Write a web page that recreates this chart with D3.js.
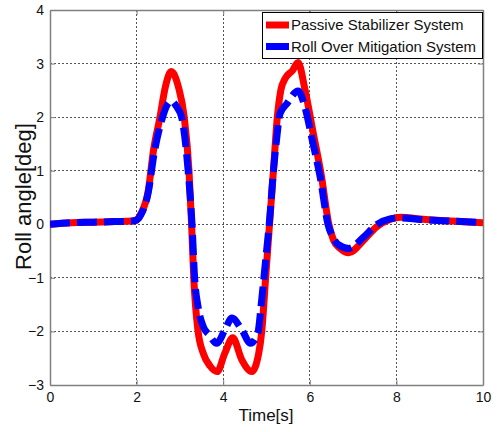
<!DOCTYPE html>
<html>
<head>
<meta charset="utf-8">
<script src="https://cdn.jsdelivr.net/npm/d3@7"></script>
<style>
  html, body { margin: 0; padding: 0; background: #fff; }
  svg { display: block; font-family: "Liberation Sans", Arial, Helvetica, sans-serif; }
</style>
</head>
<body>
<svg id="chart" width="497" height="432"></svg>
<script>
// Roll angle response over time for the two suspension setups
const passiveTime = [0, 0.5, 1.0, 1.5, 1.9, 2.0, 2.1, 2.27, 2.39, 2.54, 2.66, 2.8, 2.97, 3.1, 3.21, 3.27, 3.32, 3.42, 3.54, 3.7, 3.86, 4.04, 4.22, 4.43, 4.66, 4.82, 4.89, 4.98, 5.07, 5.16, 5.25, 5.33, 5.43, 5.6, 5.73, 5.88, 6.08, 6.26, 6.44, 6.55, 6.7, 6.9, 7.24, 7.54, 7.85, 8.1, 8.55, 9.25, 10];
const passiveRoll = [0, 0.03, 0.04, 0.05, 0.06, 0.08, 0.2, 0.63, 1.38, 2.0, 2.55, 2.85, 2.55, 2.0, 1.0, 0.0, -1.0, -2.0, -2.41, -2.65, -2.75, -2.4, -2.12, -2.53, -2.75, -2.41, -2.0, -1.0, 0.0, 1.0, 2.0, 2.5, 2.72, 2.87, 3.02, 2.55, 1.7, 0.94, 0.0, -0.3, -0.45, -0.53, -0.3, -0.05, 0.09, 0.13, 0.1, 0.06, 0.03];

const mitigationTime = [0, 0.5, 1.0, 1.5, 1.9, 2.0, 2.1, 2.27, 2.4, 2.6, 2.7, 2.8, 2.92, 3.04, 3.19, 3.28, 3.34, 3.42, 3.54, 3.68, 3.85, 4.04, 4.2, 4.43, 4.63, 4.8, 4.88, 4.98, 5.07, 5.16, 5.23, 5.31, 5.47, 5.73, 5.89, 6.06, 6.24, 6.42, 6.54, 6.66, 6.9, 7.24, 7.54, 7.85, 8.1, 8.55, 9.25, 10];
const mitigationRoll = [0, 0.03, 0.04, 0.05, 0.06, 0.08, 0.18, 0.6, 1.3, 2.0, 2.22, 2.3, 2.2, 2.0, 1.0, 0.0, -1.0, -1.54, -1.91, -2.07, -2.22, -1.97, -1.75, -1.97, -2.22, -2.03, -1.48, -0.67, 0.07, 1.0, 1.56, 2.06, 2.25, 2.49, 2.18, 1.56, 0.88, 0.0, -0.25, -0.38, -0.45, -0.24, -0.01, 0.1, 0.12, 0.09, 0.06, 0.03];

const xTicks = [0, 2, 4, 6, 8, 10];
const yTicks = [-3, -2, -1, 0, 1, 2, 3, 4];
const seriesNames = ["Passive Stabilizer System", "Roll Over Mitigation System"];

const svg = d3.select("#chart");
const plot = { left: 50, right: 483, top: 10, bottom: 385 };

const x = d3.scaleLinear().domain([0, 10]).range([plot.left, plot.right]);
const y = d3.scaleLinear().domain([-3, 4]).range([plot.bottom, plot.top]);

// dotted grid
const grid = svg.append("g").attr("shape-rendering", "crispEdges");
grid.selectAll("line.gx").data(xTicks.slice(1, -1)).join("line")
  .attr("x1", d => x(d)).attr("x2", d => x(d))
  .attr("y1", plot.top).attr("y2", plot.bottom)
  .attr("stroke", "#555").attr("stroke-width", 1).attr("stroke-dasharray", "2,2");
grid.selectAll("line.gy").data(yTicks.slice(1, -1)).join("line")
  .attr("x1", plot.left).attr("x2", plot.right)
  .attr("y1", d => y(d)).attr("y2", d => y(d))
  .attr("stroke", "#555").attr("stroke-width", 1).attr("stroke-dasharray", "2,2");

// axes with inward ticks
const axisColor = "#808080";
const xAxis = svg.append("g").attr("transform", `translate(0,${plot.bottom})`)
  .call(d3.axisBottom(x).tickValues(xTicks).tickSizeInner(-5).tickSizeOuter(0).tickPadding(7).tickFormat(d3.format("d")));
const yAxis = svg.append("g").attr("transform", `translate(${plot.left},0)`)
  .call(d3.axisLeft(y).tickValues(yTicks).tickSizeInner(-5).tickSizeOuter(0).tickPadding(6).tickFormat(d3.format("d")));
const xTop = svg.append("g").attr("transform", `translate(0,${plot.top})`)
  .call(d3.axisTop(x).tickValues(xTicks).tickSizeInner(-5).tickSizeOuter(0).tickFormat(""));
const yRight = svg.append("g").attr("transform", `translate(${plot.right},0)`)
  .call(d3.axisRight(y).tickValues(yTicks).tickSizeInner(-5).tickSizeOuter(0).tickFormat(""));

[xAxis, yAxis, xTop, yRight].forEach(g => {
  g.select(".domain").attr("stroke", axisColor).attr("stroke-width", 1.5);
  g.selectAll(".tick line").attr("stroke", axisColor).attr("stroke-width", 1);
  g.selectAll(".tick text").attr("fill", "#111").attr("font-size", 14)
    .attr("font-family", "'Liberation Sans', Arial, sans-serif");
});
xAxis.selectAll(".tick text").attr("dy", "0.71em");

// series lines
const clip = svg.append("clipPath").attr("id", "plotClip").append("rect")
  .attr("x", plot.left).attr("y", plot.top - 4)
  .attr("width", plot.right - plot.left).attr("height", plot.bottom - plot.top + 8);

const line = d3.line().x(d => x(d[0])).y(d => y(d[1])).curve(d3.curveMonotoneX);
const passive = d3.zip(passiveTime, passiveRoll);
const mitigation = d3.zip(mitigationTime, mitigationRoll);

const lines = svg.append("g").attr("clip-path", "url(#plotClip)");
lines.append("path").datum(passive).attr("d", line)
  .attr("fill", "none").attr("stroke", "#ff0000").attr("stroke-width", 7)
  .attr("stroke-linejoin", "round");
lines.append("path").datum(mitigation).attr("d", line)
  .attr("fill", "none").attr("stroke", "#0000ff").attr("stroke-width", 7)
  .attr("stroke-dasharray", "20,7").attr("stroke-linejoin", "round");

// legend
const legend = svg.append("g");
legend.append("rect").attr("x", 262.5).attr("y", 12.5).attr("width", 220).attr("height", 46)
  .attr("fill", "#fff").attr("stroke", "#000").attr("stroke-width", 1);
const legendColors = ["#ff0000", "#0000ff"];
seriesNames.forEach((name, i) => {
  const cy = 25 + i * 21.5;
  legend.append("line").attr("x1", 266).attr("x2", 289).attr("y1", cy).attr("y2", cy)
    .attr("stroke", legendColors[i]).attr("stroke-width", 7);
  legend.append("text").attr("x", 291).attr("y", cy).attr("dy", "0.36em")
    .attr("font-size", 15).attr("fill", "#111").text(name);
});

// axis titles
svg.append("text").attr("x", 266).attr("y", 421)
  .attr("text-anchor", "middle").attr("font-size", 17).attr("fill", "#111").text("Time[s]");
svg.append("text").attr("transform", "translate(31,196.5) rotate(-90)")
  .attr("text-anchor", "middle").attr("font-size", 22).attr("fill", "#111").text("Roll angle[deg]");
</script>
</body>
</html>
